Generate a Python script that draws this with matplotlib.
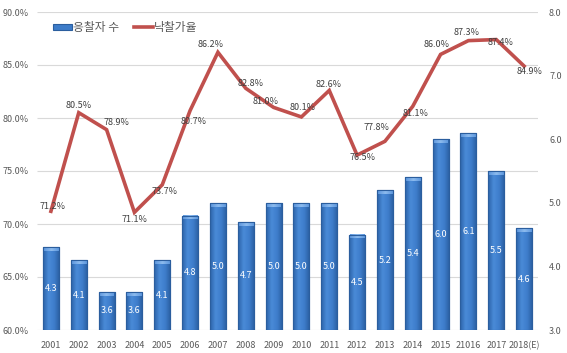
import matplotlib
matplotlib.use('Agg')
import matplotlib.pyplot as plt
import matplotlib.transforms as mtransforms
import numpy as np
from matplotlib.colors import LinearSegmentedColormap

plt.rcParams['font.family'] = ['Noto Sans CJK KR', 'DejaVu Sans']

years = ['2001', '2002', '2003', '2004', '2005', '2006', '2007', '2008', '2009',
         '2010', '2011', '2012', '2013', '2014', '2015', '21016', '2017', '2018(E)']
bidders = [4.3, 4.1, 3.6, 3.6, 4.1, 4.8, 5.0, 4.7, 5.0,
           5.0, 5.0, 4.5, 5.2, 5.4, 6.0, 6.1, 5.5, 4.6]
bid_rate = [71.2, 80.5, 78.9, 71.1, 73.7, 80.7, 86.2, 82.8, 81.0,
            80.1, 82.6, 76.5, 77.8, 81.1, 86.0, 87.3, 87.4, 84.9]

# label nudges (pixels) so the rate labels sit like the original
rate_offsets = [(2, 5), (0, 7), (10, 7), (0, -7), (2, -7), (4, -11), (-7, 8), (5, 5), (-8, 6),
                (1, 9), (-1, 6), (5, -2), (-8, 14), (3, -7), (-4, 10), (-2, 8), (4, -3), (5, -5)]

pct_ticks = [60, 65, 70, 75, 80, 85, 90]
cnt_ticks = [3, 4, 5, 6, 7, 8]

txt_col = '#595959'
fig = plt.figure(figsize=(5.67, 3.53), dpi=100)
ax = fig.add_axes([37 / 567, 1 - 330 / 353, 501 / 567, 318 / 353])
ax2 = ax.twinx()

x = range(len(years))

# bars on the primary axes (shown on the right)
ax.set_ylim(3, 8)
ax.set_xlim(-0.5, len(years) - 0.5)
bw = 0.58
bars = ax.bar(x, bidders, width=bw, color='#3D7CC9', edgecolor='#2B5E9E',
              linewidth=0.8, zorder=2, label='응찰자 수')
lo = ax.get_ylim()[0]

# cylinder-ish shading like the excel bars
shade = LinearSegmentedColormap.from_list('shade', ['#2C63A8', '#4A8BD8', '#3E7DCB', '#2A5E9F'])
capmap = LinearSegmentedColormap.from_list('cap', ['#5E98DE', '#8DBBEE', '#5E98DE'])
grad = np.linspace(0, 1, 64).reshape(1, -1)
for b in bars:
    bx, bh = b.get_x(), b.get_height()
    im = ax.imshow(grad, cmap=shade, aspect='auto', zorder=2.1,
                   extent=(bx, bx + bw, lo, bh), interpolation='bicubic')
    im.set_clip_path(b)
    ax.imshow(grad, cmap=capmap, aspect='auto', zorder=2.2,
              extent=(bx + 0.03, bx + bw - 0.03, bh - 0.06, bh - 0.01))
ax.set_xlim(-0.5, len(years) - 0.5)
ax.set_ylim(3, 8)
for b in bars:
    ax.add_patch(plt.Rectangle((b.get_x(), lo), bw, b.get_height() - lo, fill=False,
                               edgecolor='#2B5E9E', linewidth=0.8, zorder=2.3))

for i, v in enumerate(bidders):
    ax.text(i, (lo + v) / 2, f'{v:.1f}', ha='center', va='center',
            color='white', fontsize=6.5, zorder=3)
ax.yaxis.tick_right()
ax.set_yticks(cnt_ticks)
ax.set_yticklabels([f'{t:.1f}' for t in cnt_ticks])
ax.set_xticks(list(x))
ax.set_xticklabels(years)
ax.tick_params(axis='both', length=0, colors=txt_col, labelsize=6.5)
ax.tick_params(axis='x', pad=8)
ax.tick_params(axis='y', pad=8)

# line on the twin axes (shown on the left)
ax2.set_ylim(60, 90)
ax2.yaxis.tick_left()
ax2.set_yticks(pct_ticks)
ax2.set_yticklabels([f'{t:.1f}%' for t in pct_ticks])
ax2.tick_params(axis='y', length=0, colors=txt_col, labelsize=6.5, pad=6)
line, = ax2.plot(list(x), bid_rate, color='#C0504D', linewidth=2.6,
                 solid_joinstyle='miter', label='낙찰가율')
for i, v in enumerate(bid_rate):
    dx, dy = rate_offsets[i]
    ax2.annotate(f'{v:.1f}%', (i, v), xytext=(dx, dy), textcoords='offset pixels',
                 ha='center', va='center', fontsize=6.5, color='#404040')

# gridlines follow the percent ticks, drawn behind the bars
blend = mtransforms.blended_transform_factory(ax.transAxes, ax2.transData)
ax.hlines(pct_ticks, 0, 1, transform=blend, colors='#D9D9D9', linewidth=0.8, zorder=0)

for a in (ax, ax2):
    for s in a.spines.values():
        s.set_visible(False)

ax2.legend([bars, line], ['응찰자 수', '낙찰가율'], loc='upper left',
           bbox_to_anchor=(0.01, 1.005), ncol=2, frameon=False, fontsize=8.5,
           handlelength=1.6, handleheight=0.45, columnspacing=1.3, handletextpad=0.1,
           labelcolor=txt_col)

fig.savefig('out.png', dpi=100)
